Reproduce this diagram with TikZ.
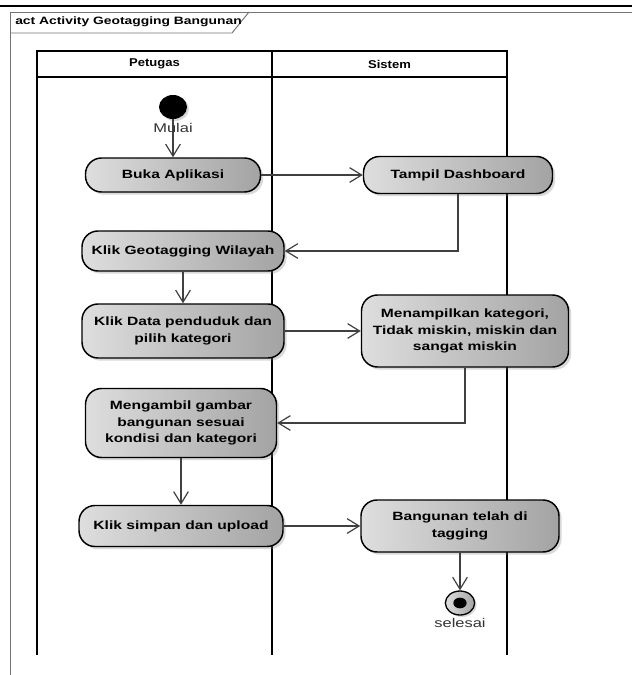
\documentclass[tikz,border=0pt]{standalone}
\usepackage{fontspec}
\newfontfamily\umlfont[FakeStretch=1.3]{Liberation Sans}
\newfontfamily\hdrfont[FakeStretch=1.15]{Liberation Sans}
\usetikzlibrary{arrows.meta,shadows,shapes.geometric}
\definecolor{actL}{gray}{0.87}
\definecolor{actR}{gray}{0.64}
\definecolor{lineC}{gray}{0.25}
\definecolor{frameC}{gray}{0.45}
\tikzset{
 act/.style={draw=black, line width=1.1pt, rounded corners=12pt, left color=actL, right color=actR, align=center,
   font=\umlfont\bfseries\fontsize{9}{12.5}\selectfont, inner sep=2pt,
   drop shadow={shadow xshift=2pt, shadow yshift=-2pt, opacity=0.3, fill=gray}},
 conn/.style={draw=lineC, line width=0.9pt, -{Straight Barb[length=9pt,width=11pt,line width=0.9pt]}},
 lane/.style={draw=black, line width=1.5pt},
 frm/.style={draw=frameC, line width=0.7pt},
 lbl/.style={font=\umlfont\fontsize{9.5}{11}\selectfont, text=black!80, inner sep=0pt},
 hdr/.style={font=\hdrfont\bfseries\fontsize{8.5}{10}\selectfont, inner sep=0pt},
 ttl/.style={font=\umlfont\bfseries\fontsize{8}{10}\selectfont, inner sep=0pt, anchor=west},
}
\begin{document}
\begin{tikzpicture}[x=0.75pt,y=-0.75pt]
\useasboundingbox (0,0) rectangle (632,675);
% frame
\draw[line width=1.8pt] (0,6) -- (632,6);
\draw[frm] (10,675) -- (10,12) -- (632,12);
\draw[frm] (10,33) -- (232,33) -- (249,12);
\node[ttl] (title) at (15,22) {act Activity Geotagging Bangunan};
% lanes
\draw[lane] (37,655) -- (37,51) -- (507,51) -- (507,655);
\draw[lane] (37,77) -- (507,77);
\draw[lane] (272,51) -- (272,655);
\node[hdr] (pet) at (154.5,64) {Petugas};
\node[hdr] (sis) at (389.5,64) {Sistem};
% nodes
\node[ellipse, fill=black, minimum width=21pt, minimum height=18pt, inner sep=0pt,
  drop shadow={shadow xshift=1.5pt, shadow yshift=-1.5pt, opacity=0.3, fill=gray}] (start) at (173,107) {};
\node[act, minimum width=131.25pt, minimum height=25.5pt] (buka) at (173,175) {Buka Aplikasi};
\node[act, minimum width=141.75pt, minimum height=27.75pt] (tampil) at (458,175) {Tampil Dashboard};
\node[act, minimum width=151.5pt, minimum height=30pt] (geo) at (183,251) {Klik Geotagging Wilayah};
\node[act, minimum width=151.5pt, minimum height=40.5pt] (data) at (183,331) {Klik Data penduduk dan\\pilih kategori};
\node[act, minimum width=155.25pt, minimum height=54pt] (menam) at (465,331) {Menampilkan kategori,\\Tidak miskin, miskin dan\\sangat miskin};
\node[act, minimum width=143.25pt, minimum height=51.75pt] (ambil) at (181,423) {Mengambil gambar\\bangunan sesuai\\kondisi dan kategori};
\node[act, minimum width=153pt, minimum height=30.75pt] (simpan) at (181,526) {Klik simpan dan upload};
\node[act, minimum width=148.5pt, minimum height=39pt] (bang) at (460,526) {Bangunan telah di\\tagging};
\node[ellipse, draw=black, line width=1pt, left color=actL, right color=actR, minimum width=22pt, minimum height=18pt, inner sep=0pt,
  drop shadow={shadow xshift=1.5pt, shadow yshift=-1.5pt, opacity=0.3, fill=gray}] (fin) at (460,603) {};
\node[ellipse, fill=black, minimum width=10pt, minimum height=8pt, inner sep=0pt] (finin) at (fin.center) {};
% connectors
\draw[conn] (start) -- (buka);
\draw[conn] (buka) -- (tampil);
\draw[conn] (tampil.south) |- (geo.east);
\draw[conn] (geo) -- (data);
\draw[conn] (data) -- (menam);
\draw[conn] (menam.south) |- (ambil.east);
\draw[conn] (ambil) -- (simpan);
\draw[conn] (simpan) -- (bang);
\draw[conn] (bang) -- (fin);
% labels
\node[lbl] (mulai) at (173,128) {Mulai};
\node[lbl] (selesai) at (460,623) {selesai};
\end{tikzpicture}
\end{document}
